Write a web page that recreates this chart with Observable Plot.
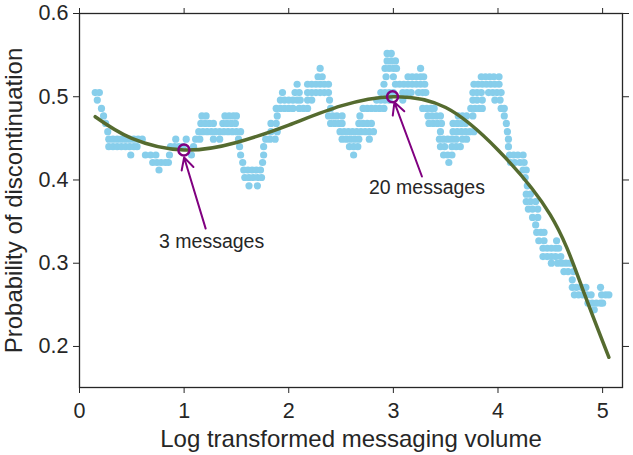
<!DOCTYPE html>
<html><head><meta charset="utf-8">
<script src="https://cdn.jsdelivr.net/npm/d3@7"></script>
<script src="https://cdn.jsdelivr.net/npm/@observablehq/plot@0.6"></script>
<style>
html,body{margin:0;padding:0;background:#fff;}
</style></head><body><div id="chart"></div>
<script>
// Rolling probability values (one row per discrete level)
const dotLevels = [0.552, 0.543, 0.534, 0.524, 0.515, 0.505, 0.496, 0.486, 0.477, 0.468, 0.458, 0.449, 0.440, 0.430, 0.421, 0.412, 0.403, 0.393, 0.383, 0.374, 0.365, 0.355, 0.346, 0.337, 0.327, 0.318, 0.308, 0.300, 0.290, 0.280, 0.271, 0.262, 0.252, 0.244];
const dotXs = [
  [2.94, 2.98],
  [2.94, 2.98, 3.02],
  [2.30, 2.92, 2.96, 3.00, 3.03, 3.26],
  [2.28, 2.32, 2.93, 3.00, 3.14, 3.18, 3.22, 3.26, 3.29, 3.84, 3.88, 3.92, 3.96, 4.01],
  [2.08, 2.18, 2.22, 2.26, 2.30, 2.34, 2.38, 2.91, 3.02, 3.06, 3.10, 3.14, 3.18, 3.22, 3.26, 3.30, 3.77, 3.81, 3.85, 3.89, 3.93, 3.97, 4.01],
  [0.15, 0.19, 1.94, 2.06, 2.10, 2.18, 2.22, 2.26, 2.30, 2.34, 2.38, 2.88, 2.92, 2.96, 3.00, 3.09, 3.13, 3.17, 3.24, 3.28, 3.31, 3.76, 3.80, 3.84, 3.91, 3.95, 3.99, 4.03],
  [0.17, 1.92, 1.96, 2.00, 2.04, 2.08, 2.11, 2.18, 2.22, 2.39, 2.84, 2.88, 2.92, 2.96, 3.09, 3.76, 3.80, 3.85, 3.97, 4.02],
  [0.21, 1.88, 1.92, 1.96, 2.00, 2.04, 2.10, 2.14, 2.18, 2.40, 2.71, 2.75, 2.79, 2.83, 2.87, 2.91, 3.28, 3.32, 3.36, 3.39, 3.74, 3.78, 3.82, 3.85, 4.03, 4.06],
  [0.23, 1.17, 1.21, 1.39, 1.43, 1.47, 1.50, 1.89, 2.38, 2.42, 2.46, 2.51, 2.68, 3.33, 3.37, 3.41, 3.45, 3.62, 3.66, 3.70, 3.76, 4.06],
  [0.25, 1.16, 1.20, 1.24, 1.28, 1.37, 1.41, 1.45, 1.49, 1.83, 1.88, 2.40, 2.44, 2.48, 2.51, 2.67, 2.71, 2.75, 2.79, 3.34, 3.38, 3.42, 3.46, 3.57, 3.61, 3.65, 3.69, 4.08],
  [0.27, 1.14, 1.18, 1.22, 1.26, 1.30, 1.34, 1.38, 1.42, 1.46, 1.50, 1.54, 1.83, 1.89, 2.49, 2.53, 2.57, 2.61, 2.65, 2.69, 2.73, 2.77, 2.81, 3.45, 3.57, 3.61, 3.65, 3.69, 3.73, 3.77, 4.09],
  [0.28, 0.32, 0.36, 0.40, 0.44, 0.48, 0.52, 0.56, 0.60, 0.92, 1.02, 1.11, 1.15, 1.28, 1.34, 1.52, 1.78, 1.82, 1.87, 2.51, 2.55, 2.59, 2.63, 2.67, 2.77, 3.44, 3.48, 3.52, 3.56, 3.60, 3.66, 3.70, 4.10],
  [0.28, 0.32, 0.36, 0.40, 0.44, 0.48, 0.52, 0.55, 0.87, 0.91, 0.95, 0.99, 1.09, 1.53, 1.76, 2.58, 2.62, 2.66, 3.45, 3.49, 3.56, 3.60, 3.64, 4.10],
  [0.49, 0.63, 0.68, 0.73, 0.86, 1.07, 1.54, 1.76, 2.62, 3.48, 3.52, 3.56, 4.11, 4.15, 4.19, 4.24],
  [0.70, 0.74, 0.78, 0.82, 0.85, 1.56, 1.75, 3.53, 4.12, 4.16, 4.21, 4.25],
  [0.76, 1.57, 1.61, 1.65, 1.69, 1.73, 4.24, 4.27],
  [1.58, 1.62, 1.66, 1.70, 1.74, 4.26],
  [1.62, 1.70, 4.28],
  [4.27, 4.31],
  [4.27, 4.31, 4.36],
  [4.29, 4.33, 4.38],
  [4.33, 4.38],
  [4.36],
  [4.37, 4.41, 4.44],
  [4.39, 4.44, 4.56],
  [4.43, 4.47, 4.51, 4.55, 4.58],
  [4.43, 4.47, 4.51, 4.55, 4.60],
  [4.51, 4.57, 4.61, 4.65, 4.69],
  [4.63, 4.67, 4.72],
  [4.71],
  [4.71, 4.75, 4.80, 4.84, 4.98],
  [4.73, 4.77, 4.81, 4.85, 4.89, 4.99, 5.03, 5.06],
  [4.86, 4.90, 4.94, 4.98, 5.00],
  [4.92]
];

// Fitted trend curve
const fitX = [0.15, 0.5, 1.0, 1.5, 2.0, 2.5, 3.0, 3.5, 4.0, 4.5, 4.8, 5.06];
const fitY = [0.476, 0.450, 0.436, 0.445, 0.466, 0.489, 0.500, 0.487, 0.436, 0.358, 0.272, 0.187];

// Annotations
const annText = ["3 messages", "20 messages"];
const annTextX = [1.263, 3.321];
const annTextY = [0.326, 0.391];
const annPointX = [0.998, 2.992];
const annPointY = [0.436, 0.500];
const arrowFromX = [1.206, 3.273];
const arrowFromY = [0.3416, 0.4042];
const arrowToX = [1.0, 3.01];
const arrowToY = [0.4271, 0.4933];

const xTicks = [0, 1, 2, 3, 4, 5];
const yTicks = [0.2, 0.3, 0.4, 0.5, 0.6];
const xTitle = "Log transformed messaging volume";
const yTitle = "Probability of discontinuation";

const dots = dotLevels.flatMap((y, i) => dotXs[i].map(x => ({x, y})));
const fit = fitX.map((x, i) => ({x, y: fitY[i]}));
const ann = annText.map((t, i) => ({
  text: t, tx: annTextX[i], ty: annTextY[i],
  px: annPointX[i], py: annPointY[i],
  x1: arrowFromX[i], y1: arrowFromY[i], x2: arrowToX[i], y2: arrowToY[i]
}));

const font = "'Liberation Sans', Arial, sans-serif";
const ink = "#262626";

const chart = Plot.plot({
  width: 633, height: 455,
  marginLeft: 79, marginRight: 11, marginTop: 13, marginBottom: 68,
  style: {fontFamily: font, background: "#fff", color: ink, overflow: "visible"},
  x: {domain: [0, 5.19]},
  y: {domain: [0.1507, 0.6]},
  marks: [
    Plot.dot(dots, {x: "x", y: "y", r: 3.6, fill: "#87ceeb", stroke: "none"}),
    Plot.line(fit, {x: "x", y: "y", stroke: "#556b2f", strokeWidth: 3.5, curve: "natural"}),
    Plot.arrow(ann, {x1: "x1", y1: "y1", x2: "x2", y2: "y2", stroke: "#800080", strokeWidth: 2, headLength: 10, headAngle: 55}),
    Plot.dot(ann, {x: "px", y: "py", r: 5.5, stroke: "#800080", strokeWidth: 2.5, fill: "none"}),
    Plot.text(ann, {x: "tx", y: "ty", text: "text", fontSize: 19.5, fill: ink}),
    Plot.frame({stroke: ink, strokeWidth: 1.3}),
    Plot.axisX({ticks: xTicks, tickSize: 6, tickPadding: 9, fontSize: 21.5, tickFormat: d => String(d), label: null}),
    Plot.axisX({anchor: "top", ticks: xTicks, tickSize: 6, tickFormat: () => "", label: null}),
    Plot.axisY({ticks: yTicks, tickSize: 6, tickPadding: 5, fontSize: 21.5, tickFormat: d => d.toFixed(1), label: null}),
    Plot.axisY({anchor: "right", ticks: yTicks, tickSize: 6, tickFormat: () => "", label: null}),
    Plot.text([xTitle], {frameAnchor: "bottom", dy: 52, lineAnchor: "middle", textAnchor: "middle", text: d => d, fontSize: 24, fill: ink}),
    Plot.text([yTitle], {frameAnchor: "left", dx: -65, rotate: -90, lineAnchor: "middle", textAnchor: "middle", text: d => d, fontSize: 24, fill: ink})
  ]
});
document.getElementById("chart").appendChild(chart);
</script>
</body></html>
